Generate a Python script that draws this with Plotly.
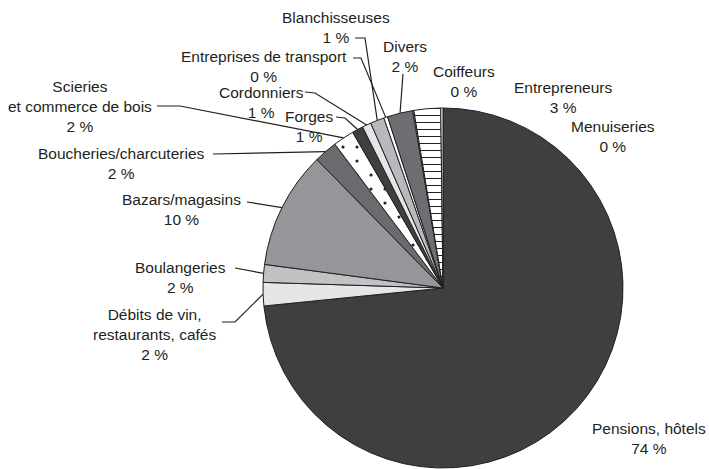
import math
import plotly.graph_objects as go

# ---- data ----
categories = ["Pensions, hôtels", "Débits de vin,<br>restaurants, cafés", "Boulangeries",
              "Bazars/magasins", "Boucheries/charcuteries", "Scieries<br>et commerce de bois",
              "Forges", "Cordonniers", "Blanchisseuses", "Entreprises de transport",
              "Divers", "Coiffeurs", "Entrepreneurs", "Menuiseries"]
values = [73.7, 2.1, 1.6, 10.6, 2.1, 1.9, 1.0, 0.8, 1.25, 0.35, 2.3, 0.1, 2.4, 0.2]
pct_labels = ["74 %", "2 %", "2 %", "10 %", "2 %", "2 %", "1 %", "1 %", "1 %", "0 %",
              "2 %", "0 %", "3 %", "0 %"]

# ---- styling ----
colors = ["#3f3f41", "#e5e6e7", "#c1c2c4", "#959699", "#6a6b6e", "#ffffff", "#3f3f41",
          "#e5e6e7", "#b8b9bc", "#ffffff", "#6d6e71", "#ffffff", "#ffffff", "#ffffff"]
patterns = ["", "", "", "", "", ".", "", "", "", "", "", "", "-", ""]

W, H = 709, 469
CX, CY, R = 443, 288, 180

# label text centre (px) and leader start/elbow points (px) -- layout only
label_pos = [(649, 438), (154, 334), (180, 277), (181, 210), (121, 164), (80, 107),
             (309, 126), (261, 102), (336, 27), (264, 67), (405, 56), (464, 82),
             (563, 98), (613, 137)]
leaders = [None, [(222, 322), (235, 322)], [(235, 268)], [(247, 202)], [(213, 154)],
           [(157, 106), (180, 106)], [(336, 117), (345, 118)], [(305, 92), (315, 93)],
           [(355, 38), (365, 38)], [(353, 58), (361, 58)], [(403, 74)], None, None, None]

def px(x, y):
    return x / W, 1 - y / H

fig = go.Figure(go.Pie(
    values=values, labels=[c.replace("<br>", " ") for c in categories],
    sort=False, direction="clockwise", rotation=0,
    textinfo="none", hoverinfo="label+percent",
    marker=dict(colors=colors, line=dict(color="#231f20", width=1),
                pattern=dict(shape=patterns, fgcolor="#231f20", bgcolor="#ffffff",
                             size=[7 if p == "-" else 14 for p in patterns],
                             solidity=[0.15 if p == "-" else 0.04 for p in patterns])),
    domain=dict(x=[(CX - R) / W, (CX + R) / W], y=[1 - (CY + R) / H, 1 - (CY - R) / H]),
    showlegend=False,
))

total = sum(values)
cum = 0
shapes = []
annotations = []
for i, v in enumerate(values):
    mid = (cum + v / 2) / total * 2 * math.pi
    cum += v
    ex, ey = CX + R * math.sin(mid), CY - R * math.cos(mid)
    lx, ly = label_pos[i]
    annotations.append(dict(
        x=lx / W, y=1 - ly / H, xref="paper", yref="paper",
        text=categories[i] + "<br>" + pct_labels[i], showarrow=False,
        xanchor="center", yanchor="middle", align="center",
        font=dict(family="Liberation Sans, Arial, sans-serif", size=15.5, color="#231f20")))
    if leaders[i]:
        pts = [px(*p) for p in leaders[i]] + [px(ex, ey)]
        path = "M " + " L ".join(f"{a},{b}" for a, b in pts)
        shapes.append(dict(type="path", path=path, xref="paper", yref="paper",
                           line=dict(color="#231f20", width=1.2)))

fig.update_layout(
    width=W, height=H, margin=dict(l=0, r=0, t=0, b=0),
    paper_bgcolor="white", plot_bgcolor="white",
    shapes=shapes, annotations=annotations,
)
fig.write_html("out.html", config={"displayModeBar": False},
               post_script="document.body.style.margin='0';document.body.style.overflow='hidden';")
